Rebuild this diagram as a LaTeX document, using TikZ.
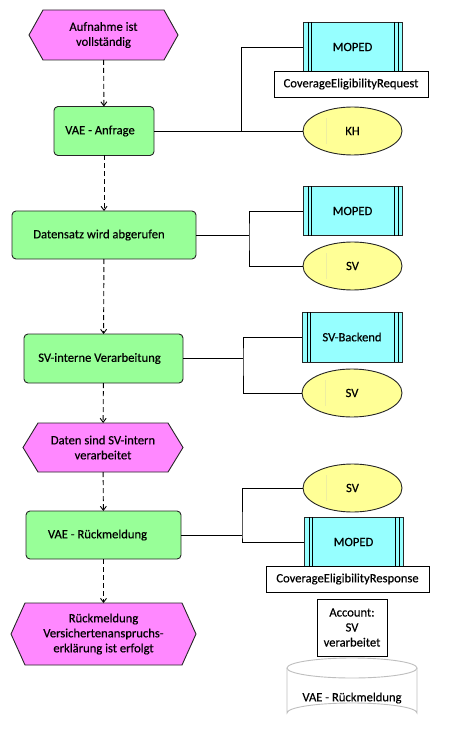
\documentclass[tikz,border=0pt]{standalone}
\usepackage{fontspec}
\setmainfont{Carlito}[FakeBold=0.35]
\usetikzlibrary{arrows.meta,shapes.geometric,calc}
\definecolor{evc}{RGB}{255,136,255}
\definecolor{fnc}{RGB}{152,255,152}
\definecolor{syc}{RGB}{150,255,255}
\definecolor{orc}{RGB}{255,255,150}
\definecolor{fnt}{RGB}{238,238,160}
\definecolor{dbc}{RGB}{190,190,190}
\tikzset{
  base/.style={inner sep=0pt,outer sep=0pt,font=\fontsize{12.6}{15}\selectfont,align=center},
  evbox/.style={base,draw=none},
  fnbox/.style={base,draw=black!85,line width=0.9pt,fill=fnc,rounded corners=4pt},
  sysbox/.style={base,draw=black!85,line width=0.9pt,fill=syc,minimum width=99pt,minimum height=50pt},
  orgel/.style={base,ellipse,draw=black!85,line width=0.9pt,fill=orc,minimum width=99pt,minimum height=48pt},
  lblbox/.style={base,draw=black,line width=0.9pt,fill=white},
  flow/.style={dashed,dash pattern=on 5pt off 3pt,line width=0.9pt,-{Straight Barb[length=4pt,width=6pt]}},
  assoc/.style={line width=0.9pt},
}
\newcommand{\hexa}[3]{% name, inset, fill
  \filldraw[fill=#3,draw=black!85,line width=0.9pt]
    (#1.west) -- ($(#1.north west)+(#2,0)$) -- ($(#1.north east)-(#2,0)$) -- (#1.east)
    -- ($(#1.south east)-(#2,0)$) -- ($(#1.south west)+(#2,0)$) -- cycle;}
\newcommand{\sysbars}[1]{%
  \draw[line width=0.8pt] ($(#1.north west)+(5,0)$) -- ($(#1.south west)+(5,0)$)
    ($(#1.north west)+(8,0)$) -- ($(#1.south west)+(8,0)$)
    ($(#1.north east)-(4,0)$) -- ($(#1.south east)-(4,0)$)
    ($(#1.north east)-(8,0)$) -- ($(#1.south east)-(8,0)$);}
\newcommand{\faint}[1]{%
  \draw[fnt,line width=0.5pt] ($(#1.north west)+(9,4)$) -- ($(#1.south west)+(9,-4)$);}
\begin{document}
\begin{tikzpicture}[x=1pt,y=-1pt]
\useasboundingbox (0,0) rectangle (450,735);

% events
\node[evbox,minimum width=149pt,minimum height=50pt] (e1) at (103.5,35) {};
\hexa{e1}{14}{evc}
\node[base] at (e1) {Aufnahme ist\\vollständig};

\node[evbox,minimum width=160pt,minimum height=49pt] (e2) at (103,447.5) {};
\hexa{e2}{15}{evc}
\node[base] at (e2) {Daten sind SV-intern\\verarbeitet};

\node[evbox,minimum width=185pt,minimum height=62pt] (e3) at (103.5,634) {};
\hexa{e3}{14}{evc}
\node[base] at (e3) {Rückmeldung\\Versichertenanspruchs-\\erklärung ist erfolgt};

% functions
\node[fnbox,minimum width=100pt,minimum height=49pt] (f1) at (104,131) {VAE - Anfrage\hspace*{8pt}};
\node[fnbox,minimum width=184pt,minimum height=48pt] (f2) at (104,235) {Datensatz wird abgerufen\hspace*{10pt}};
\node[fnbox,minimum width=159pt,minimum height=49pt] (f3) at (103.5,358.5) {SV-interne Verarbeitung\hspace*{8pt}};
\node[fnbox,minimum width=155pt,minimum height=48pt] (f4) at (103.5,535) {VAE - Rückmeldung\hspace*{12pt}};

% flow
\draw[flow] (e1) -- (f1);
\draw[flow] (f1) -- (f2);
\draw[flow] (f2) -- (f3);
\draw[flow] (f3) -- (e2);
\draw[flow] (e2) -- (f4);
\draw[flow] (f4) -- (e3);

% right side: group 1
\node[sysbox] (mo1) at (352.5,47) {MOPED};
\sysbars{mo1}
\node[lblbox,minimum width=154pt,minimum height=26pt] (l1) at (351,84) {CoverageEligibilityRequest};
\node[orgel] (kh) at (352.5,131) {KH};
\faint{kh}
\coordinate (j1) at (241,131);
\draw[assoc] (f1.east) -- (kh.west);
\draw[assoc] (j1) |- (mo1.west);

% group 2
\node[sysbox,minimum height=49pt] (mo2) at (352.5,211) {MOPED};
\sysbars{mo2}
\node[orgel] (sv2) at (352.5,266) {SV};
\faint{sv2}
\coordinate (j2) at (249,235);
\draw[assoc] (f2.east) -- (j2);
\draw[assoc] (mo2.west) -| (j2) |- (sv2.west);

% group 3
\node[sysbox,minimum width=100pt] (svb) at (352,337) {SV-Backend};
\sysbars{svb}
\node[orgel,minimum width=100pt] (sv3) at (352,393) {SV};
\faint{sv3}
\coordinate (j3) at (243,358.5);
\draw[assoc] (f3.east) -- (j3);
\draw[assoc] (svb.west) -| (j3) |- (sv3.west);

% group 4
\node[orgel] (sv4) at (352.5,488) {SV};
\faint{sv4}
\node[sysbox] (mo3) at (353.5,542) {MOPED};
\sysbars{mo3}
\node[lblbox,minimum width=163pt,minimum height=26pt] (l3) at (347.5,579) {CoverageEligibilityResponse};
\coordinate (j4) at (242,535);
\draw[assoc] (f4.east) -- (j4);
\draw[assoc] (sv4.west) -| (j4) |- (mo3.west);

% account + database
\node[lblbox,minimum width=70pt,minimum height=57pt] (acc) at (352,627.5) {Account:\\SV\\verarbeitet};
\draw[dbc,line width=0.9pt,fill=white]
  (287,668) -- (287,713) arc[start angle=180,end angle=360,x radius=65,y radius=10]
  -- (417,668);
\draw[dbc,line width=0.9pt,fill=white] (352,668) ellipse[x radius=65,y radius=10];
\node[base] (db) at (352,698) {VAE - Rückmeldung};
\end{tikzpicture}
\end{document}
